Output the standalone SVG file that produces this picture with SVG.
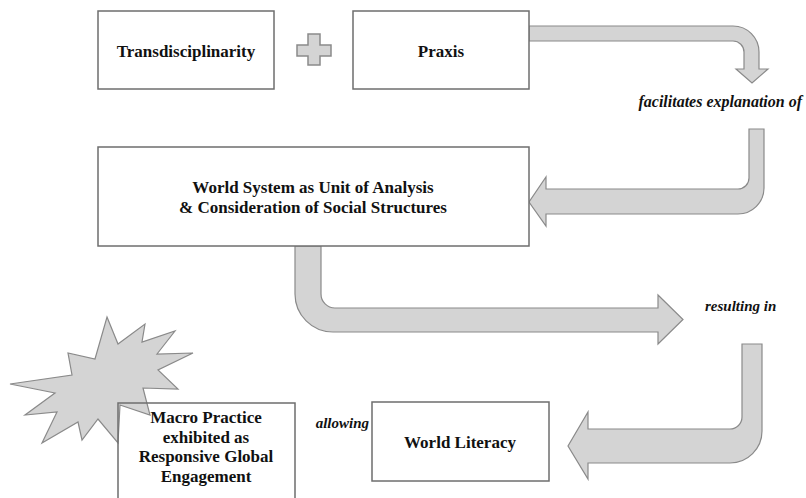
<svg xmlns="http://www.w3.org/2000/svg" width="806" height="498" viewBox="0 0 806 498">
<style>
.box{fill:#fff;stroke:#6e6e6e;stroke-width:1.5}
.arrow{fill:#d4d4d4;stroke:#8a8a8a;stroke-width:1.2;stroke-linejoin:miter}
.t{font-family:"Liberation Serif","Times New Roman",serif;font-weight:bold;font-size:17px;fill:#111;text-anchor:middle}
.lbl{font-family:"Liberation Serif","Times New Roman",serif;font-weight:bold;font-style:italic;font-size:15px;fill:#111}
</style>
<rect width="806" height="498" fill="#fff"/>
<g id="starburst">
<polygon class="arrow" points="107,317 118,344 145,324 142,342 175,331 157,354 193,353 158,370 178,389 143,388 150,415 120,405 118,443 98,419 82,440 78,422 42,443 57,412 25,415 55,393 10,384 72,375 68,353 95,359"/>
</g>
<g id="connectors">
<path class="arrow" d="M529,26 H733 A26,26 0 0 1 759,52 V69 H768 L752,83 L736,69 H744 V52 A11,11 0 0 0 733,41 H529 Z"/>
<path class="arrow" d="M749,129 H764 V188 A26,26 0 0 1 738,214 H546 V226 L529,202 L546,177 V189 H738 A11,11 0 0 0 749,178 Z"/>
<path class="arrow" d="M295,246 V294 A38,38 0 0 0 333,332 H658 V344 L683,319.5 L658,295 V308 H335 A14,14 0 0 1 321,294 V246 Z"/>
<path class="arrow" d="M742,344 H762 V431 A32,32 0 0 1 730,463 H588 V479 L568,446 L588,412 V429 H730 A12,12 0 0 0 742,417 Z"/>
</g>
<g id="plus">
<path class="arrow" d="M308,34 H320 V45 H331 V56 H320 V65 H308 V56 H297 V45 H308 Z" style="stroke-width:1.5"/>
</g>
<g id="transdisciplinarity">
<rect class="box" x="98" y="11" width="176" height="78"/>
<text class="t" x="186" y="57">Transdisciplinarity</text>
</g>
<g id="praxis">
<rect class="box" x="353" y="11" width="176" height="78"/>
<text class="t" x="441" y="57">Praxis</text>
</g>
<g id="world-system">
<rect class="box" x="98" y="147" width="431" height="99"/>
<text class="t" x="313" y="193">World System as Unit of Analysis</text>
<text class="t" x="313" y="213">&amp; Consideration of Social Structures</text>
</g>
<g id="world-literacy">
<rect class="box" x="372" y="402" width="177" height="79"/>
<text class="t" x="460" y="448">World Literacy</text>
</g>
<g id="macro-practice">
<path d="M118,500 V403 H295 V500" fill="none" stroke="#6e6e6e" stroke-width="1.5"/>
<text class="t" x="206" y="423">Macro Practice</text>
<text class="t" x="206" y="442.5">exhibited as</text>
<text class="t" x="206" y="462">Responsive Global</text>
<text class="t" x="206" y="481.5">Engagement</text>
</g>
<g id="labels">
<text class="lbl" x="802" y="107" text-anchor="end" style="font-size:16px">facilitates explanation of</text>
<text class="lbl" x="705" y="311">resulting in</text>
<text class="lbl" x="369" y="428" text-anchor="end">allowing</text>
</g>
</svg>
